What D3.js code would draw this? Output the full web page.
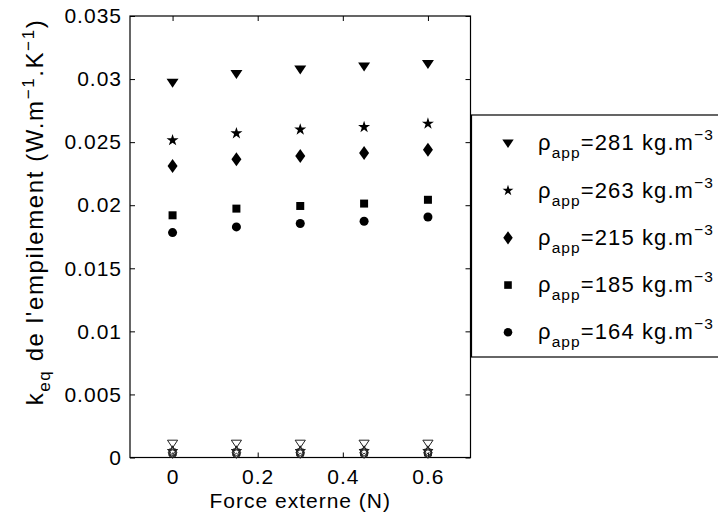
<!DOCTYPE html>
<html><head><meta charset="utf-8">
<script src="https://cdn.jsdelivr.net/npm/d3@7"></script>
<style>body{margin:0;background:#fff;overflow:hidden}svg{display:block;font-family:"Liberation Sans",Arial,sans-serif}</style>
</head><body>
<script>
const forces = [0, 0.15, 0.3, 0.45, 0.6];
const seriesNames = ["281", "263", "215", "185", "164"];
const seriesShapes = ["triangle", "star", "diamond", "square", "circle"];
const k281 = [0.0297, 0.0304, 0.03075, 0.0310, 0.0312];
const k263 = [0.02515, 0.0257, 0.0260, 0.0262, 0.02647];
const k215 = [0.0231, 0.02364, 0.0239, 0.02414, 0.0244];
const k185 = [0.0192, 0.01973, 0.01994, 0.02013, 0.02043];
const k164 = [0.01783, 0.01828, 0.01855, 0.01873, 0.01907];
// open markers near zero
const openVals = [0.0011, 0.0005, 0.0004, 0.0004, 0.0003];
const xTicks = [0, 0.2, 0.4, 0.6];
const yTicks = [0, 0.005, 0.01, 0.015, 0.02, 0.025, 0.03, 0.035];
const seriesVals = [k281, k263, k215, k185, k164];

const W = 718, H = 519;
const svg = d3.select("body").append("svg").attr("width", W).attr("height", H);
const L = 130, R = 470.5, T = 16, B = 457.5;
const x = d3.scaleLinear().domain([-0.1, 0.7]).range([L, R]);
const y = d3.scaleLinear().domain([0, 0.035]).range([B, T]);
const FS = 21, LS = 1;

function shapePath(s, sc) {
  sc = sc || 1;
  if (s === "triangle") { const w = 6*sc, h = 9*sc; return `M${-w},${-h*0.45}L${w},${-h*0.45}L0,${h*0.55}Z`; }
  if (s === "diamond") { const w = 5*sc, h = 7*sc; return `M0,${-h}L${w},0L0,${h}L${-w},0Z`; }
  if (s === "square") return d3.symbol(d3.symbolSquare, 64*sc*sc)();
  if (s === "circle") return d3.symbol(d3.symbolCircle, 64*sc*sc)();
  if (s === "star") return d3.symbol(d3.symbolStar, 45*sc*sc)();
}

// axes
const gx = svg.append("g").attr("transform", `translate(0,${B})`)
  .call(d3.axisBottom(x).tickValues(xTicks).tickFormat(d3.format("")).tickSizeInner(-5).tickSizeOuter(0).tickPadding(12));
const gy = svg.append("g").attr("transform", `translate(${L},0)`)
  .call(d3.axisLeft(y).tickValues(yTicks).tickFormat(d => d === 0 ? "0" : String(+d.toFixed(3))).tickSizeInner(-5).tickSizeOuter(0).tickPadding(8));
const gx2 = svg.append("g").attr("transform", `translate(0,${T})`)
  .call(d3.axisTop(x).tickValues(xTicks).tickFormat("").tickSizeInner(-5).tickSizeOuter(0));
const gy2 = svg.append("g").attr("transform", `translate(${R},0)`)
  .call(d3.axisRight(y).tickValues(yTicks).tickFormat("").tickSizeInner(-5).tickSizeOuter(0));
[gx, gy, gx2, gy2].forEach(g => {
  g.select(".domain").remove();
  g.selectAll("line").attr("stroke", "#000");
  g.selectAll("text").attr("font-size", FS).attr("letter-spacing", LS).attr("fill", "#000")
    .attr("font-family", "Liberation Sans, Arial, sans-serif");
});
gx.selectAll("text").attr("dy", "0.71em");
svg.append("rect").attr("x", L).attr("y", T).attr("width", R - L).attr("height", B - T)
  .attr("fill", "none").attr("stroke", "#000").attr("stroke-width", 1.2);

// open markers near zero
seriesShapes.forEach((s, i) => {
  svg.append("g").selectAll("path").data(forces).join("path")
    .attr("transform", d => `translate(${x(d)},${y(openVals[i])})`)
    .attr("d", shapePath(s, 0.85))
    .attr("fill", "none").attr("stroke", "#222").attr("stroke-width", 1);
});

// filled series
seriesShapes.forEach((s, i) => {
  svg.append("g").selectAll("path").data(forces).join("path")
    .attr("transform", (d, j) => `translate(${x(d)},${y(seriesVals[i][j])})`)
    .attr("d", shapePath(s)).attr("fill", "#000");
});

// axis titles
svg.append("text").attr("x", x(0.3)).attr("y", 508).attr("text-anchor", "middle")
  .attr("font-size", FS).attr("letter-spacing", LS).text("Force externe (N)");
const yl = svg.append("text").attr("transform", "translate(43,212) rotate(-90)")
  .attr("text-anchor", "middle").attr("font-size", 24).attr("letter-spacing", 1.6);
yl.append("tspan").text("k");
yl.append("tspan").attr("font-size", 17).attr("dy", 7).text("eq");
yl.append("tspan").attr("dy", -7).text(" de l'empilement (W.m");
yl.append("tspan").attr("font-size", 17).attr("dy", -9).text("−1");
yl.append("tspan").attr("dy", 9).text(".K");
yl.append("tspan").attr("font-size", 17).attr("dy", -9).text("−1");
yl.append("tspan").attr("dy", 9).text(")");

// legend
svg.append("rect").attr("x", 471.5).attr("y", 115).attr("width", 300).attr("height", 242)
  .attr("fill", "#fff").attr("stroke", "#000").attr("stroke-width", 1.2);
const rowY = d3.scaleLinear().domain([0, 4]).range([143.3, 332.3]);
seriesNames.forEach((n, i) => {
  const cy = rowY(i);
  svg.append("path").attr("transform", `translate(508,${cy})`)
    .attr("d", shapePath(seriesShapes[i], seriesShapes[i] === "star" ? 0.9 : 0.95)).attr("fill", "#000");
  const t = svg.append("text").attr("x", 538).attr("y", cy + 7).attr("font-size", 22).attr("letter-spacing", 1.1);
  t.append("tspan").text("ρ");
  t.append("tspan").attr("font-size", 15.5).attr("dy", 8).text("app");
  t.append("tspan").attr("dy", -8).text(`=${n} kg.m`);
  t.append("tspan").attr("font-size", 15.5).attr("dy", -10).text("−3");
});
</script>
</body></html>
